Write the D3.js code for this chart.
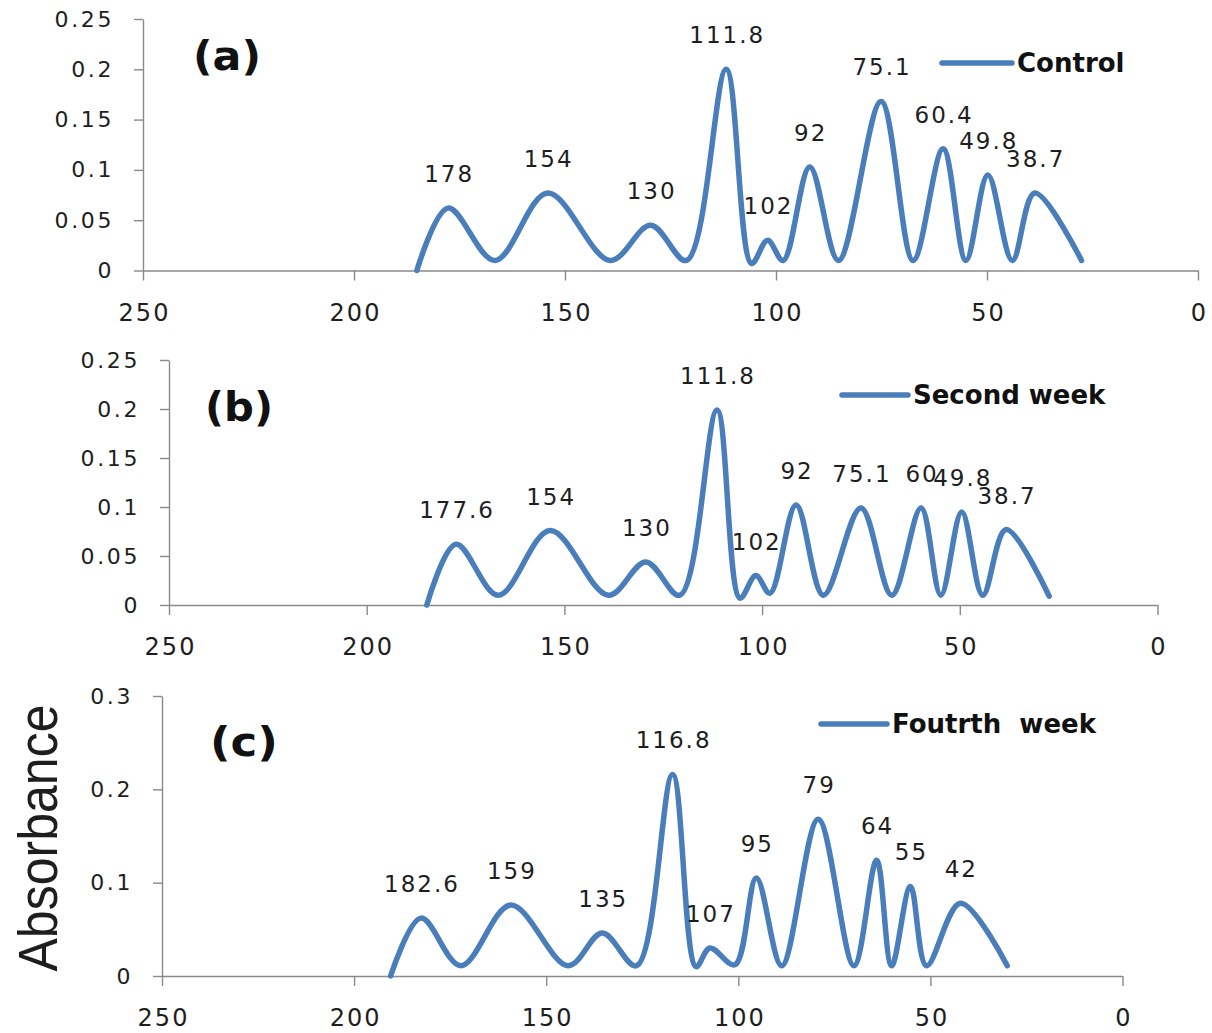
<!DOCTYPE html>
<html>
<head>
<meta charset="utf-8">
<script src="https://cdn.jsdelivr.net/npm/d3@7"></script>
<style>
  body { margin: 0; background: #fff; }
  svg { display: block; }
</style>
</head>
<body>
<div id="chart"></div>
<script>
// x positions (wavelength) and absorbance, peaks and valleys
var xTicks = [250, 200, 150, 100, 50, 0];
var yTicksAB = [0, 0.05, 0.1, 0.15, 0.2, 0.25];
var yTicksC = [0, 0.1, 0.2, 0.3];

var controlX = [185.1, 177.7, 166.6, 154.1, 139.3, 129.7, 121.2, 111.8, 105.8, 102.0, 98.3, 92.0, 85.2, 75.1, 67.5, 60.4, 55.0, 49.8, 44.0, 38.7, 27.6];
var controlY = [0, 0.062, 0.01, 0.077, 0.01, 0.045, 0.01, 0.2, 0.007, 0.03, 0.01, 0.103, 0.01, 0.168, 0.01, 0.121, 0.01, 0.095, 0.01, 0.077, 0.01];
var controlLabels = ["", "178", "", "154", "", "130", "", "111.8", "", "102", "", "92", "", "75.1", "", "60.4", "", "49.8", "", "38.7", ""];

var secondX = [184.8, 177.4, 166.7, 153.6, 138.9, 129.4, 120.8, 111.4, 105.6, 101.6, 98.0, 91.4, 84.5, 75.0, 67.2, 59.8, 54.8, 49.5, 44.2, 38.3, 27.4];
var secondY = [0, 0.062, 0.01, 0.076, 0.01, 0.044, 0.01, 0.199, 0.007, 0.03, 0.012, 0.102, 0.01, 0.099, 0.01, 0.099, 0.01, 0.095, 0.01, 0.077, 0.009];
var secondLabels = ["", "177.6", "", "154", "", "130", "", "111.8", "", "102", "", "92", "", "75.1", "", "60", "", "49.8", "", "38.7", ""];

var fourthX = [190.5, 182.6, 172.2, 159.2, 144.3, 135.4, 126.5, 117.1, 111.0, 107.4, 100.9, 95.3, 88.7, 79.2, 69.9, 64.0, 60.1, 55.2, 51.0, 42.2, 30.0];
var fourthY = [0, 0.062, 0.011, 0.076, 0.011, 0.046, 0.011, 0.216, 0.01, 0.03, 0.012, 0.105, 0.011, 0.168, 0.011, 0.124, 0.011, 0.096, 0.011, 0.078, 0.011];
var fourthLabels = ["", "182.6", "", "159", "", "135", "", "116.8", "", "107", "", "95", "", "79", "", "64", "", "55", "", "42", ""];

var seriesNames = ["Control", "Second week", "Foutrth  week"];
var panelTags = ["(a)", "(b)", "(c)"];

var blue = "#4a7ebb";
var axisGrey = "#8a8a8a";

function init() {
    var w = 1212, h = 1033;

    var svg = d3.select("#chart").append("svg")
        .attr("width", w)
        .attr("height", h);

    var panels = [
        { xs: controlX, ys: controlY, labels: controlLabels, yTicks: yTicksAB, yMax: 0.25,
          left: 143, right: 1198, top: 19, bottom: 270.5,
          tag: { x: 193, y: 70 }, legend: { x1: 942, x2: 1012, y: 63 } },
        { xs: secondX, ys: secondY, labels: secondLabels, yTicks: yTicksAB, yMax: 0.25,
          left: 169, right: 1157.5, top: 360, bottom: 605,
          tag: { x: 205, y: 421 }, legend: { x1: 842, x2: 908, y: 395 } },
        { xs: fourthX, ys: fourthY, labels: fourthLabels, yTicks: yTicksC, yMax: 0.3,
          left: 162, right: 1122.5, top: 696, bottom: 976,
          tag: { x: 210, y: 756 }, legend: { x1: 821, x2: 887, y: 724 } }
    ];

    panels.forEach(function(p, k) {
        var x = d3.scaleLinear().domain([250, 0]).range([p.left, p.right]);
        var y = d3.scaleLinear().domain([0, p.yMax]).range([p.bottom, p.top]);

        var g = svg.append("g");

        // y axis
        var yAxis = g.append("g")
            .attr("transform", "translate(" + p.left + ",0)")
            .call(d3.axisLeft(y).tickValues(p.yTicks).tickSize(9).tickSizeOuter(0)
                .tickPadding(20).tickFormat(function(d) { return String(d); }));

        // x axis
        var xAxis = g.append("g")
            .attr("transform", "translate(0," + p.bottom + ")")
            .call(d3.axisBottom(x).tickValues(xTicks).tickSize(10).tickSizeOuter(0)
                .tickPadding(23).tickFormat(function(d) { return String(d); }));

        [yAxis, xAxis].forEach(function(a) {
            a.select(".domain").attr("stroke", axisGrey).attr("stroke-width", 1.4);
            a.selectAll(".tick line").attr("stroke", axisGrey).attr("stroke-width", 1.4);
            a.selectAll("text")
                .attr("fill", "#1e1e1e")
                .style("font-family", "'DejaVu Sans', sans-serif");
        });
        yAxis.selectAll("text").style("font-size", "22px").style("letter-spacing", "2.6px");
        xAxis.selectAll("text").style("font-size", "24px").style("letter-spacing", "2px")
            .attr("dx", "1");

        var pts = p.xs.map(function(d, i) {
            return { x: d, y: p.ys[i], label: p.labels[i] };
        });

        var line = d3.line()
            .x(function(d) { return x(d.x); })
            .y(function(d) { return y(d.y); })
            .curve(d3.curveCatmullRom.alpha(0.5));

        g.append("path")
            .datum(pts)
            .attr("d", line)
            .attr("fill", "none")
            .attr("stroke", blue)
            .attr("stroke-width", 5.5)
            .attr("stroke-linejoin", "round")
            .attr("stroke-linecap", "round");

        // peak labels
        g.selectAll(".peak")
            .data(pts.filter(function(d) { return d.label; }))
            .enter()
            .append("text")
            .attr("class", "peak")
            .attr("x", function(d) { return x(d.x); })
            .attr("y", function(d) { return y(d.y) - 26; })
            .attr("dx", 1)
            .attr("text-anchor", "middle")
            .attr("fill", "#1e1e1e")
            .style("font-family", "'DejaVu Sans', sans-serif")
            .style("font-size", "23px")
            .style("letter-spacing", "2px")
            .text(function(d) { return d.label; });

        // panel tag
        g.append("text")
            .attr("x", p.tag.x)
            .attr("y", p.tag.y)
            .attr("fill", "#111")
            .attr("textLength", 68)
            .attr("lengthAdjust", "spacingAndGlyphs")
            .style("font-family", "'DejaVu Sans', sans-serif")
            .style("font-weight", "bold")
            .style("font-size", "40px")
            .text(panelTags[k]);

        // legend
        g.append("line")
            .attr("x1", p.legend.x1).attr("x2", p.legend.x2)
            .attr("y1", p.legend.y).attr("y2", p.legend.y)
            .attr("stroke", blue)
            .attr("stroke-width", 5.5)
            .attr("stroke-linecap", "round");
        g.append("text")
            .attr("x", p.legend.x2 + 5)
            .attr("y", p.legend.y + 9)
            .attr("fill", "#111")
            .attr("xml:space", "preserve")
            .style("white-space", "pre")
            .style("font-family", "'DejaVu Sans', sans-serif")
            .style("font-weight", "bold")
            .style("font-size", "26px")
            .text(seriesNames[k]);
    });

    // shared y title
    svg.append("text")
        .attr("transform", "translate(57,838) rotate(-90)")
        .attr("text-anchor", "middle")
        .attr("fill", "#1e1e1e")
        .attr("textLength", 267)
        .attr("lengthAdjust", "spacingAndGlyphs")
        .style("font-family", "'Liberation Sans', sans-serif")
        .style("font-size", "56px")
        .text("Absorbance");
}

window.onload = init;
</script>
</body>
</html>
